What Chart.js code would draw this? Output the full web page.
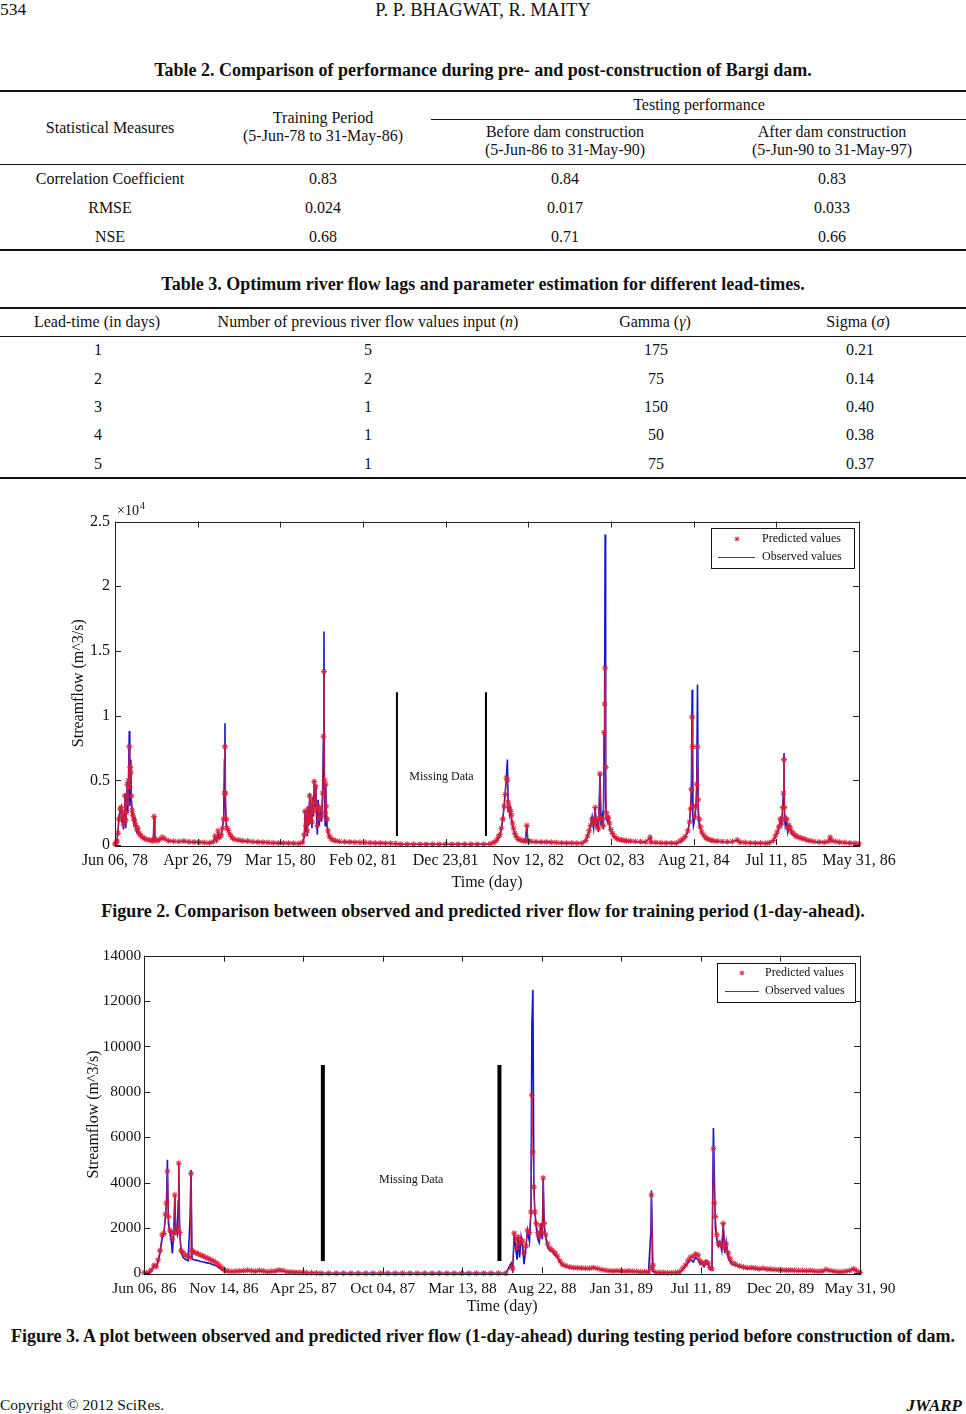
<!DOCTYPE html>
<html>
<head>
<meta charset="utf-8">
<script src="https://cdn.jsdelivr.net/npm/chart.js@4.4.1/dist/chart.umd.min.js"></script>
<style>
  html, body { margin: 0; padding: 0; background: #fff; }
  body { width: 966px; height: 1414px; position: relative; overflow: hidden;
         font-family: 'Liberation Serif', 'Times New Roman', serif; color: #111; }
  .t { position: absolute; white-space: nowrap; transform: translate(-50%, -50%); font-size: 16px; line-height: 1; }
  .l { transform: translate(0, -50%); }
  .r { transform: translate(-100%, -50%); }
  .h { font-size: 18.5px; }
  .b { font-weight: bold; font-size: 18px; }
  .cap { font-weight: bold; font-size: 18px; }
  .rule { position: absolute; left: 0; width: 966px; height: 1.5px; background: #111; }
  .thin { height: 1px; }
  canvas { position: absolute; left: 0; }
</style>
</head>
<body>

<div class="t l" style="left:0;top:10px;font-size:17.5px">534</div>
<div class="t h" style="left:483px;top:10px">P. P. BHAGWAT, R. MAITY</div>

<!-- Table 2 -->
<div class="t b" style="left:483px;top:70px">Table 2. Comparison of performance during pre- and post-construction of Bargi dam.</div>
<div class="rule" style="top:90px"></div>
<div class="t" style="left:699px;top:105px">Testing performance</div>
<div class="rule thin" style="top:119px;left:431px;width:535px"></div>
<div class="t" style="left:110px;top:128px">Statistical Measures</div>
<div class="t" style="left:323px;top:118px">Training Period</div>
<div class="t" style="left:323px;top:136px">(5-Jun-78 to 31-May-86)</div>
<div class="t" style="left:565px;top:132px">Before dam construction</div>
<div class="t" style="left:565px;top:150px">(5-Jun-86 to 31-May-90)</div>
<div class="t" style="left:832px;top:132px">After dam construction</div>
<div class="t" style="left:832px;top:150px">(5-Jun-90 to 31-May-97)</div>
<div class="rule thin" style="top:164px"></div>
<div class="t" style="left:110px;top:178.5px">Correlation Coefficient</div>
<div class="t" style="left:323px;top:178.5px">0.83</div>
<div class="t" style="left:565px;top:178.5px">0.84</div>
<div class="t" style="left:832px;top:178.5px">0.83</div>
<div class="t" style="left:110px;top:208px">RMSE</div>
<div class="t" style="left:323px;top:208px">0.024</div>
<div class="t" style="left:565px;top:208px">0.017</div>
<div class="t" style="left:832px;top:208px">0.033</div>
<div class="t" style="left:110px;top:237px">NSE</div>
<div class="t" style="left:323px;top:237px">0.68</div>
<div class="t" style="left:565px;top:237px">0.71</div>
<div class="t" style="left:832px;top:237px">0.66</div>
<div class="rule" style="top:249px"></div>

<!-- Table 3 -->
<div class="t b" style="left:483px;top:284px">Table 3. Optimum river flow lags and parameter estimation for different lead-times.</div>
<div class="rule" style="top:307px"></div>
<div class="t" style="left:97px;top:322px">Lead-time (in days)</div>
<div class="t" style="left:368px;top:322px">Number of previous river flow values input (<i>n</i>)</div>
<div class="t" style="left:655px;top:322px">Gamma (<i>γ</i>)</div>
<div class="t" style="left:858px;top:322px">Sigma (<i>σ</i>)</div>
<div class="rule thin" style="top:336px"></div>
<div class="t" style="left:98px;top:350px">1</div><div class="t" style="left:368px;top:350px">5</div><div class="t" style="left:656px;top:350px">175</div><div class="t" style="left:860px;top:350px">0.21</div>
<div class="t" style="left:98px;top:378.5px">2</div><div class="t" style="left:368px;top:378.5px">2</div><div class="t" style="left:656px;top:378.5px">75</div><div class="t" style="left:860px;top:378.5px">0.14</div>
<div class="t" style="left:98px;top:406.5px">3</div><div class="t" style="left:368px;top:406.5px">1</div><div class="t" style="left:656px;top:406.5px">150</div><div class="t" style="left:860px;top:406.5px">0.40</div>
<div class="t" style="left:98px;top:435px">4</div><div class="t" style="left:368px;top:435px">1</div><div class="t" style="left:656px;top:435px">50</div><div class="t" style="left:860px;top:435px">0.38</div>
<div class="t" style="left:98px;top:463.5px">5</div><div class="t" style="left:368px;top:463.5px">1</div><div class="t" style="left:656px;top:463.5px">75</div><div class="t" style="left:860px;top:463.5px">0.37</div>
<div class="rule" style="top:477px"></div>

<canvas id="trainChart" width="966" height="410" style="top:490px"></canvas>
<div class="t cap" style="left:483px;top:911px">Figure 2. Comparison between observed and predicted river flow for training period (1-day-ahead).</div>

<canvas id="testChart" width="966" height="390" style="top:930px"></canvas>
<div class="t cap" style="left:483px;top:1336px">Figure 3. A plot between observed and predicted river flow (1-day-ahead) during testing period before construction of dam.</div>

<div class="t l" style="left:0;top:1405px;font-size:15.5px">Copyright © 2012 SciRes.</div>
<div class="t r" style="left:962px;top:1405px;font-size:17px;font-weight:bold;font-style:italic">JWARP</div>

<script>
// ---------- Figure 2: training period, days counted from Jun 06, 78 ----------
const trainTickLabels = ['Jun 06, 78', 'Apr 26, 79', 'Mar 15, 80', 'Feb 02, 81', 'Dec 23,81',
  'Nov 12, 82', 'Oct 02, 83', 'Aug 21, 84', 'Jul 11, 85', 'May 31, 86'];
const trainTickDays = [0, 324, 648, 972, 1296, 1620, 1944, 2268, 2592, 2916];
const trainFlowTicks = [0, 5000, 10000, 15000, 20000, 25000];
const trainFlowLabels = ['0', '0.5', '1', '1.5', '2', '2.5'];

const trainDays = [
  0, 4, 8, 12, 16, 20, 24, 27, 30, 33, 36, 39, 42, 45, 48, 50, 53, 56, 58, 60, 62, 64, 67, 70, 74, 78, 82, 86, 90, 95, 100, 108, 116, 125, 135, 145, 150, 153, 156,
  165, 175, 185, 195, 210, 230, 250, 270, 290, 310, 330, 350, 370, 385,
  392, 398, 404, 410, 416, 422, 426, 429, 431, 433, 436, 440, 445, 452, 460, 470, 485,
  500, 520, 540, 560, 580, 600, 620, 640, 660, 680, 700, 720, 735,
  742, 745, 748, 751, 754, 757, 760, 763, 766, 769, 772, 775, 778, 781, 784, 787, 790, 793, 796, 800, 805, 810, 814, 817, 819, 821, 824, 826, 828, 831, 835, 840, 846,
  855, 865, 880, 900, 920, 940, 960, 980, 1000, 1020, 1040, 1060, 1080, 1100, 1120, 1145, 1170, 1195, 1220, 1245, 1270, 1295, 1320, 1345, 1370, 1395, 1420, 1445, 1470, 1485,
  1495, 1502, 1508, 1514, 1520, 1525, 1530, 1534, 1538, 1541, 1544, 1547, 1550, 1554, 1558, 1562, 1567, 1573, 1580, 1590, 1600, 1608, 1614, 1618,
  1630, 1650, 1670, 1690, 1710, 1730, 1750, 1770, 1790, 1810, 1830,
  1845, 1852, 1858, 1864, 1870, 1876, 1882, 1886, 1890, 1895, 1901, 1905, 1910, 1914, 1917, 1919, 1921, 1923, 1926, 1930, 1934, 1938, 1943, 1950, 1958, 1966, 1975, 1985, 1995, 2005,
  2020, 2040, 2060, 2080, 2097, 2100, 2120, 2140, 2160, 2180, 2200,
  2215, 2225, 2235, 2245, 2252, 2256, 2259, 2262, 2264, 2267, 2272, 2277, 2280, 2283, 2286, 2290, 2295, 2300, 2308, 2316, 2325, 2335, 2345,
  2360, 2380, 2400, 2420, 2439, 2450, 2470, 2490, 2510, 2530, 2550, 2565,
  2580, 2588, 2595, 2602, 2608, 2613, 2617, 2620, 2622, 2624, 2627, 2632, 2637, 2642, 2647, 2652, 2658, 2665, 2672, 2680, 2690, 2700, 2712, 2725,
  2740, 2760, 2780, 2795, 2803, 2810, 2825, 2840, 2860, 2880, 2900, 2916
];
const trainObserved = [
  50, 150, 400, 1200, 2300, 2600, 2900, 1700, 2500, 1200, 2200, 4000, 1300, 2800, 4900, 2500, 5200, 8800, 3000, 5500, 6600, 3600, 2300, 2600, 1700, 2000, 1300, 1000, 1200, 800, 700, 550, 450, 400, 350, 330, 300, 2200, 400,
  300, 400, 550, 450, 300, 280, 250, 300, 230, 220, 200, 180, 150, 200,
  600, 300, 900, 500, 700, 1500, 2100, 6600, 9400, 3000, 1500, 1200, 1000, 700, 500, 400, 350,
  300, 280, 250, 220, 200, 180, 160, 150, 140, 130, 120, 110, 150,
  600, 2700, 1000, 2200, 700, 3000, 1500, 4000, 1800, 3000, 1300, 3700, 2200, 5000, 3000, 4700, 2000, 800, 3500, 1500, 2500, 1800, 4500, 8400, 16500, 3500, 1500, 4700, 2500, 1500, 900, 600, 450,
  350, 300, 250, 230, 220, 200, 190, 180, 170, 150, 140, 130, 120, 100, 60, 60, 60, 60, 60, 60, 60, 60, 60, 60, 60, 60, 60, 60, 80, 150,
  300, 500, 700, 1200, 2000, 3000, 4200, 5200, 6600, 2600, 3000, 2400, 2800, 2000, 1500, 1200, 800, 600, 400, 350, 300, 280, 1500, 300,
  250, 230, 220, 210, 200, 180, 160, 150, 140, 130, 130,
  300, 600, 1000, 1500, 2200, 1300, 2900, 1500, 1800, 1000, 5500, 1500, 2200, 1200, 8700, 11000, 24000, 3500, 2000, 1800, 2100, 1500, 1100, 800, 600, 450, 400, 350, 320, 300,
  280, 250, 230, 210, 600, 200, 180, 160, 150, 140, 140,
  250, 400, 600, 1000, 1800, 3000, 4300, 12000, 2500, 1500, 2000, 3000, 4700, 12400, 2500, 1500, 1200, 900, 700, 500, 400, 350, 300,
  280, 250, 230, 250, 350, 200, 180, 160, 150, 140, 130, 150,
  300, 600, 900, 1300, 2000, 1600, 3000, 4000, 7100, 2200, 1500, 2000, 1000, 1500, 1100, 900, 800, 700, 600, 550, 500, 450, 350, 300,
  250, 220, 200, 250, 600, 300, 250, 200, 180, 150, 120, 100
];
const trainPredicted = [
  80, 120, 300, 900, 2000, 2800, 2900, 2200, 2600, 1600, 2000, 3800, 1900, 2500, 4700, 3200, 5000, 7600, 4500, 6000, 5600, 3800, 2700, 2300, 2000, 1800, 1500, 1200, 1300, 900, 750, 600, 500, 420, 380, 350, 320, 2200, 500,
  320, 420, 600, 480, 320, 290, 270, 300, 250, 240, 220, 200, 170, 250,
  700, 400, 1100, 600, 800, 1300, 2000, 4000, 7600, 4000, 2000, 1300, 1100, 800, 550, 420, 380,
  320, 300, 260, 240, 220, 200, 180, 160, 150, 140, 130, 120, 200,
  800, 2600, 1500, 2000, 1100, 2800, 1800, 3800, 2200, 3200, 1800, 3500, 2600, 4900, 3200, 4500, 2800, 1500, 3000, 2000, 2800, 2200, 4000, 8400, 13400, 5000, 2500, 4700, 3000, 2000, 1100, 700, 500,
  380, 320, 270, 250, 240, 220, 200, 190, 180, 160, 150, 140, 130, 110, 60, 60, 60, 60, 60, 60, 60, 60, 60, 60, 60, 60, 60, 60, 90, 200,
  350, 600, 800, 1300, 2000, 3000, 3900, 5200, 5000, 3300, 2900, 2700, 2600, 2300, 1700, 1300, 900, 650, 450, 380, 330, 300, 1500, 320,
  280, 250, 240, 230, 220, 200, 180, 160, 150, 140, 140,
  350, 700, 1100, 1500, 2000, 1600, 2900, 1800, 2000, 1300, 5500, 2000, 2000, 1500, 8700, 10900, 13700, 6000, 2500, 2100, 2100, 1700, 1200, 900, 650, 500, 420, 380, 350, 320,
  300, 270, 250, 230, 600, 220, 200, 180, 160, 150, 150,
  300, 450, 650, 1100, 1800, 2800, 4300, 9900, 7600, 3000, 2200, 3000, 4700, 7600, 3500, 2000, 1400, 1000, 750, 550, 450, 380, 320,
  300, 270, 250, 270, 380, 220, 200, 180, 160, 150, 140, 170,
  350, 700, 1000, 1400, 2000, 1700, 2900, 4000, 6600, 2900, 2000, 2000, 1300, 1500, 1300, 1000, 900, 750, 650, 600, 520, 480, 380, 320,
  270, 240, 220, 270, 600, 320, 270, 220, 190, 160, 130, 100
];
const trainGapDays = [1105, 1454];
const trainGapFlow = [700, 11800];

// ---------- Figure 3: testing period, days counted from Jun 06, 86 ----------
const testTickLabels = ['Jun 06, 86', 'Nov 14, 86', 'Apr 25, 87', 'Oct 04, 87', 'Mar 13, 88',
  'Aug 22, 88', 'Jan 31, 89', 'Jul 11, 89', 'Dec 20, 89', 'May 31, 90'];
const testTickDays = [0, 161.7, 323.3, 485, 646.7, 808.3, 970, 1131.7, 1293.3, 1455];
const testFlowTicks = [0, 2000, 4000, 6000, 8000, 10000, 12000, 14000];
const testFlowLabels = ['0', '2000', '4000', '6000', '8000', '10000', '12000', '14000'];

const testDays = [
  0, 8, 14, 20, 24, 28, 32, 36, 40, 43, 45, 47, 49, 52, 55, 57, 60, 62, 64, 67, 69, 70, 72, 75, 79, 84, 89, 93, 95, 97, 100, 105, 110, 115, 120, 125, 130, 135, 140, 145, 150, 155, 160, 165,
  170, 178, 186, 194, 202, 210, 218, 226, 234, 242, 250, 258, 266, 274, 282, 290, 298, 306, 314, 322, 330, 340, 350,
  360, 375, 390, 405, 420, 435, 450, 465, 480, 495, 510, 525, 540, 555, 570, 585, 600, 615, 630, 645, 660, 675, 690, 705, 720, 735,
  746, 749, 752, 755, 758, 760, 763, 766, 769, 772, 776, 779, 783, 786, 788, 790, 792, 794, 797, 800, 803, 806, 809, 811, 813, 816, 820, 825, 830, 835, 840, 845, 850, 857,
  865, 873, 881, 889, 897, 905, 913, 921, 929, 937, 945, 953, 961, 969, 977, 985, 993, 1001, 1009, 1017, 1025, 1030, 1031, 1034, 1040, 1048, 1056, 1064, 1072, 1080, 1088, 1094,
  1100, 1105, 1110, 1116, 1121, 1126, 1130, 1134, 1138, 1142, 1146, 1150, 1154, 1157, 1159, 1161, 1164, 1167, 1170, 1174, 1177, 1180, 1183, 1187, 1191, 1196, 1202,
  1210, 1218, 1226, 1234, 1242, 1250, 1258, 1266, 1274, 1282, 1290, 1298, 1306, 1314, 1322, 1330, 1338, 1346, 1354, 1362, 1370, 1378, 1386, 1394, 1402, 1410, 1418, 1426, 1434, 1442, 1448, 1455
];
const testObserved = [
  20, 20, 100, 350, 250, 500, 900, 1500, 1800, 2500, 3100, 5000, 2200, 1800, 1400, 880, 1800, 3450, 1900, 1700, 3200, 4850, 1800, 900, 700, 600, 550, 2400, 4550, 650, 600, 580, 550, 520, 500, 470, 450, 420, 380, 340, 280, 200, 130, 90,
  80, 70, 80, 90, 100, 120, 100, 80, 100, 90, 60, 70, 80, 130, 100, 60, 50, 40, 30, 20, 20, 10, 10,
  0, 0, 0, 0, 0, 0, 0, 0, 0, 0, 0, 0, 0, 0, 0, 0, 0, 0, 0, 0, 0, 0, 0, 0, 0, 0,
  450, 100, 1770, 1100, 600, 1600, 700, 1600, 1200, 400, 1200, 1900, 1400, 2700, 11000, 12500, 3800, 2700, 2000, 1500, 1350, 2200, 1500, 4200, 2100, 1600, 1150, 1000, 950, 800, 700, 500, 350, 300,
  250, 230, 220, 210, 200, 200, 230, 200, 150, 120, 100, 90, 100, 90, 80, 90, 80, 70, 60, 60, 50, 1900, 3650, 80, 30, 20, 20, 20, 20, 30, 50, 150,
  300, 450, 600, 500, 700, 600, 400, 500, 300, 550, 400, 200, 150, 6400, 4100, 2000, 1500, 1200, 1400, 1000, 2200, 900, 1400, 700, 500, 400, 350,
  300, 250, 200, 220, 200, 180, 200, 170, 160, 150, 140, 130, 120, 130, 110, 100, 100, 90, 100, 80, 70, 80, 150, 100, 80, 60, 60, 80, 100, 180, 100, 30
];
const testPredicted = [
  30, 30, 150, 350, 300, 600, 1000, 1700, 1750, 2600, 3100, 4500, 2500, 1900, 1800, 1500, 1800, 3450, 1800, 1800, 2000, 4850, 1800, 1000, 900, 800, 750, 700, 4400, 1000, 950, 900, 850, 800, 750, 700, 650, 600, 550, 480, 400, 300, 200, 120,
  100, 80, 90, 100, 110, 130, 110, 90, 120, 100, 70, 90, 100, 140, 120, 70, 60, 50, 40, 30, 25, 20, 15,
  0, 0, 0, 0, 0, 0, 0, 0, 0, 0, 0, 0, 0, 0, 0, 0, 0, 0, 0, 0, 0, 0, 0, 0, 0, 0,
  300, 200, 1770, 1500, 1100, 1600, 1300, 1500, 1400, 900, 1200, 1900, 1800, 2700, 7850, 5350, 3800, 2700, 2200, 1800, 1600, 2100, 1800, 4200, 2200, 1700, 1300, 1100, 1000, 900, 750, 550, 400, 330,
  280, 250, 240, 230, 220, 220, 250, 210, 170, 130, 110, 100, 110, 100, 90, 100, 90, 80, 70, 70, 60, 200, 3450, 350, 40, 30, 30, 25, 25, 40, 60, 200,
  350, 550, 700, 750, 850, 800, 550, 450, 400, 500, 450, 250, 200, 5500, 3100, 2500, 1700, 1300, 1300, 1200, 2200, 1100, 1300, 900, 650, 450, 400,
  320, 280, 240, 250, 230, 200, 220, 190, 180, 170, 160, 150, 140, 150, 130, 120, 120, 110, 120, 100, 90, 100, 170, 120, 90, 70, 70, 90, 120, 200, 120, 40
];
const testGapDays = [363, 722];
const testGapFlow = [540, 9180];

const PRED = 'rgba(218, 28, 52, 0.85)';
const PRED_LEG = '#c8283c';
const OBS = '#1414d2';
const INK = '#111';

Chart.defaults.font.family = "'Liberation Serif', 'Times New Roman', serif";

function star(ctx, cx, cy, r) {
  const d = r * 0.7071;
  ctx.beginPath();
  ctx.moveTo(cx - r, cy); ctx.lineTo(cx + r, cy);
  ctx.moveTo(cx, cy - r); ctx.lineTo(cx, cy + r);
  ctx.moveTo(cx - d, cy - d); ctx.lineTo(cx + d, cy + d);
  ctx.moveTo(cx - d, cy + d); ctx.lineTo(cx + d, cy - d);
  ctx.stroke();
}

// box, inward ticks, legend and notes in the MATLAB look
const framePlugin = {
  id: 'frame',
  afterDatasetsDraw(chart, args, o) {
    const { ctx, chartArea: a, scales: { x, y } } = chart;
    ctx.save();
    ctx.strokeStyle = '#222';
    ctx.lineWidth = 1;
    ctx.beginPath();
    x.ticks.forEach(t => {
      const px = Math.round(x.getPixelForValue(t.value)) + 0.5;
      ctx.moveTo(px, a.bottom); ctx.lineTo(px, a.bottom - o.tickLen);
      ctx.moveTo(px, a.top); ctx.lineTo(px, a.top + o.tickLen);
    });
    y.ticks.forEach(t => {
      const py = Math.round(y.getPixelForValue(t.value)) + 0.5;
      ctx.moveTo(a.left, py); ctx.lineTo(a.left + o.tickLen, py);
      ctx.moveTo(a.right, py); ctx.lineTo(a.right - o.tickLen, py);
    });
    ctx.stroke();
    ctx.strokeRect(Math.round(a.left) + 0.5, Math.round(a.top) + 0.5, Math.round(a.width), Math.round(a.height));

    ctx.fillStyle = INK;
    ctx.textBaseline = 'middle';
    ctx.textAlign = 'center';
    ctx.font = o.noteSize + "px 'Liberation Serif'";
    ctx.fillText('Missing Data', x.getPixelForValue(o.noteDay), y.getPixelForValue(o.noteFlow));

    if (o.exponent) {
      ctx.textAlign = 'left';
      ctx.font = "14px 'Liberation Serif'";
      ctx.fillText('×10', a.left + 2, a.top - 10);
      ctx.font = "10px 'Liberation Serif'";
      ctx.fillText('4', a.left + 25, a.top - 15);
    }

    const L = o.legend;
    const x0 = Math.round(a.right - L.right - L.w), y0 = Math.round(a.top + L.top);
    ctx.fillStyle = '#fff';
    ctx.fillRect(x0, y0, L.w, L.h);
    ctx.strokeStyle = INK;
    ctx.strokeRect(x0 + 0.5, y0 + 0.5, L.w, L.h);
    ctx.strokeStyle = PRED_LEG;
    star(ctx, x0 + L.mx, y0 + L.r1, 2.5);
    ctx.strokeStyle = '#3a3a9a';
    ctx.beginPath();
    ctx.moveTo(x0 + L.lx0, y0 + L.r2 + 0.5); ctx.lineTo(x0 + L.lx1, y0 + L.r2 + 0.5);
    ctx.stroke();
    ctx.fillStyle = INK;
    ctx.textAlign = 'left';
    ctx.font = L.font + "px 'Liberation Serif'";
    ctx.fillText('Predicted values', x0 + L.tx, y0 + L.r1);
    ctx.fillText('Observed values', x0 + L.tx, y0 + L.r2);
    ctx.restore();
  }
};

function buildChart(id, d) {
  const predPts = d.days.map((x, i) => ({ x, y: d.pred[i] }));
  const obsPts = d.days.map((x, i) => ({ x, y: d.obs[i] }));
  const gapSets = d.gapDays.map(x => ({
    data: d.gapFlow.map(y => ({ x, y })),
    showLine: true, borderColor: '#000', borderWidth: d.gapWidth, pointRadius: 0, order: 0
  }));
  return new Chart(document.getElementById(id), {
    type: 'scatter',
    data: {
      datasets: [
        { label: 'Predicted values', data: predPts, showLine: true, borderColor: PRED, borderWidth: 1,
          pointStyle: 'star', pointRadius: 3, pointBorderColor: PRED, pointBorderWidth: 1.1, clip: 5, order: 1 },
        { label: 'Observed values', data: obsPts, showLine: true, borderColor: OBS, borderWidth: 1.6,
          pointRadius: 0, order: 2 },
        ...gapSets
      ]
    },
    plugins: [framePlugin],
    options: {
      responsive: false,
      animation: false,
      events: [],
      layout: { padding: d.pad },
      plugins: {
        legend: { display: false },
        tooltip: { enabled: false },
        frame: d.frame
      },
      scales: {
        x: {
          type: 'linear', min: 0, max: d.tickDays[d.tickDays.length - 1],
          afterBuildTicks: s => { s.ticks = d.tickDays.map(value => ({ value })); },
          afterFit: s => { s.height = d.xAxisH; },
          grid: { display: false, drawTicks: false },
          border: { display: false },
          ticks: { autoSkip: false, maxRotation: 0, minRotation: 0, padding: d.xPad, color: INK,
            font: { size: d.tickSize }, callback: (v, i) => d.tickLabels[i] },
          title: { display: true, text: 'Time (day)', color: INK, font: { size: 16 },
            padding: { top: 0, bottom: d.xTitlePad } }
        },
        y: {
          type: 'linear', min: 0, max: d.flowTicks[d.flowTicks.length - 1],
          afterBuildTicks: s => { s.ticks = d.flowTicks.map(value => ({ value })); },
          afterFit: s => { s.width = d.yAxisW; },
          grid: { display: false, drawTicks: false },
          border: { display: false },
          ticks: { padding: d.yPad, color: INK, font: { size: d.tickSize },
            callback: (v, i) => d.flowLabels[i] },
          title: { display: true, text: 'Streamflow (m^3/s)', color: INK, font: { size: 16 },
            padding: { top: d.yTitlePad, bottom: 0 } }
        }
      }
    }
  });
}

buildChart('trainChart', {
  days: trainDays, obs: trainObserved, pred: trainPredicted,
  tickDays: trainTickDays, tickLabels: trainTickLabels,
  flowTicks: trainFlowTicks, flowLabels: trainFlowLabels,
  gapDays: trainGapDays, gapFlow: trainGapFlow, gapWidth: 2,
  pad: { left: 0, right: 107, top: 31.5, bottom: 0 },
  xAxisH: 55, yAxisW: 115, xPad: 6, yPad: 5, xTitlePad: 8, yTitlePad: 69, tickSize: 16,
  frame: {
    tickLen: 6, noteSize: 12, exponent: true,
    noteDay: (trainGapDays[0] + trainGapDays[1]) / 2, noteFlow: 5300,
    legend: { w: 143, h: 40, right: 5, top: 6.5, mx: 26, tx: 51, lx0: 7, lx1: 44, r1: 11, r2: 29, font: 12 }
  }
});

buildChart('testChart', {
  days: testDays, obs: testObserved, pred: testPredicted,
  tickDays: testTickDays, tickLabels: testTickLabels,
  flowTicks: testFlowTicks, flowLabels: testFlowLabels,
  gapDays: testGapDays, gapFlow: testGapFlow, gapWidth: 4,
  pad: { left: 0, right: 106, top: 25.7, bottom: 0 },
  xAxisH: 46.7, yAxisW: 144.3, xPad: 6, yPad: 3, xTitlePad: 4, yTitlePad: 84, tickSize: 15.5,
  frame: {
    tickLen: 6, noteSize: 12, exponent: false,
    noteDay: (testGapDays[0] + testGapDays[1]) / 2, noteFlow: 4100,
    legend: { w: 138, h: 39, right: 5, top: 7.3, mx: 25, tx: 48, lx0: 8, lx1: 42, r1: 10, r2: 28, font: 12 }
  }
});
</script>
</body>
</html>
